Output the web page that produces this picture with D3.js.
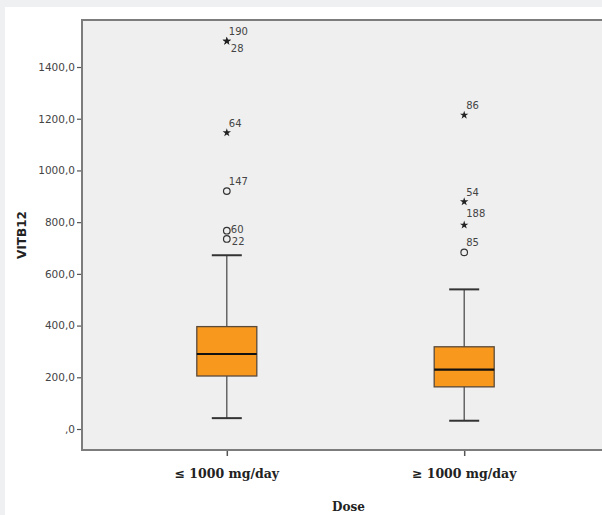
<!DOCTYPE html>
<html>
<head>
<meta charset="utf-8">
<script src="https://cdn.jsdelivr.net/npm/d3@7"></script>
<style>
  body { margin: 0; background: #eef0f2; }
  svg { display: block; }
</style>
</head>
<body>
<script>
/********************************************************/
// data
const groups = ["≤ 1000 mg/day", "≥ 1000 mg/day"];
const whiskerLow = [42, 32];
const q1 = [205, 163];
const median = [290, 230];
const q3 = [396, 318];
const whiskerHigh = [672, 540];

// outliers: group index, value, case number, kind
const outlierGroup = [0, 0, 0, 0, 0, 0, 1, 1, 1, 1];
const outlierValue = [1500, 1500, 1146, 920, 767, 735, 1214, 879, 789, 683];
const outlierCase = ["190", "28", "64", "147", "60", "22", "86", "54", "188", "85"];
const outlierKind = ["star", "star", "star", "circle", "circle", "circle", "star", "star", "star", "circle"];

const yTicks = [0, 200, 400, 600, 800, 1000, 1200, 1400];

/********************************************************/
const svgWidth = 602;
const svgHeight = 515;

const plot = { left: 82, top: 20, right: 609, bottom: 450 };

const svg = d3.select("body")
  .append("svg")
  .attr("width", svgWidth)
  .attr("height", svgHeight);

// white panel over the grey page
svg.append("rect")
  .attr("x", 5).attr("y", 7)
  .attr("width", svgWidth - 5).attr("height", svgHeight - 7)
  .attr("fill", "#ffffff");

// plot background
svg.append("rect")
  .attr("x", plot.left).attr("y", plot.top)
  .attr("width", plot.right - plot.left).attr("height", plot.bottom - plot.top)
  .attr("fill", "#efefef");

/************** scales ************/
const yScale = d3.scaleLinear()
  .domain([-81.2, 1581.8])
  .range([plot.bottom, plot.top]);

const xScale = d3.scalePoint()
  .domain(groups)
  .range([plot.left, plot.right])
  .padding(0.61);

/************** axes ************/
const leftAxis = d3.axisLeft(yScale)
  .tickValues(yTicks)
  .tickSize(5)
  .tickPadding(2)
  .tickFormat(d => d === 0 ? ",0" : d.toFixed(1).replace(".", ","));

const yAxisG = svg.append("g")
  .attr("transform", `translate(${plot.left},0)`)
  .call(leftAxis);
yAxisG.select(".domain").remove();
yAxisG.selectAll("line").attr("stroke", "#555").attr("stroke-width", 1.2);
yAxisG.selectAll("text")
  .attr("font-family", "DejaVu Sans, sans-serif")
  .attr("font-size", "10.5px")
  .attr("fill", "#444");

const bottomAxis = d3.axisBottom(xScale).tickSize(6).tickFormat("");
const xAxisG = svg.append("g")
  .attr("transform", `translate(0,${plot.bottom})`)
  .call(bottomAxis);
xAxisG.select(".domain").remove();
xAxisG.selectAll("line").attr("stroke", "#555").attr("stroke-width", 1.5);

// category labels
svg.selectAll(".catLabel")
  .data(groups)
  .enter()
  .append("text")
  .attr("class", "catLabel")
  .attr("x", d => xScale(d))
  .attr("y", 478)
  .attr("text-anchor", "middle")
  .attr("font-family", "DejaVu Serif, serif")
  .attr("font-weight", "bold")
  .attr("font-size", "12.5px")
  .attr("fill", "#222")
  .text(d => d);

// frame (left, top, bottom)
svg.append("path")
  .attr("d", `M${plot.right},${plot.top}H${plot.left}V${plot.bottom}H${plot.right}`)
  .attr("fill", "none")
  .attr("stroke", "#7c7c7c")
  .attr("stroke-width", 2);

/************** boxes ************/
const boxWidth = 60;
const capWidth = 30;
const idx = d3.range(groups.length);

const boxG = svg.append("g");

// whisker stems
boxG.selectAll(".stem")
  .data(idx)
  .enter()
  .append("line")
  .attr("x1", i => xScale(groups[i]))
  .attr("x2", i => xScale(groups[i]))
  .attr("y1", i => yScale(whiskerLow[i]))
  .attr("y2", i => yScale(whiskerHigh[i]))
  .attr("stroke", "#444")
  .attr("stroke-width", 1.2);

// caps
[whiskerLow, whiskerHigh].forEach(arr => {
  boxG.selectAll(null)
    .data(idx)
    .enter()
    .append("line")
    .attr("x1", i => xScale(groups[i]) - capWidth / 2)
    .attr("x2", i => xScale(groups[i]) + capWidth / 2)
    .attr("y1", i => yScale(arr[i]))
    .attr("y2", i => yScale(arr[i]))
    .attr("stroke", "#333")
    .attr("stroke-width", 2);
});

// boxes
boxG.selectAll(".box")
  .data(idx)
  .enter()
  .append("rect")
  .attr("x", i => xScale(groups[i]) - boxWidth / 2)
  .attr("y", i => yScale(q3[i]))
  .attr("width", boxWidth)
  .attr("height", i => yScale(q1[i]) - yScale(q3[i]))
  .attr("fill", "#f8991e")
  .attr("stroke", "#5a4a3a")
  .attr("stroke-width", 1.3);

// medians
boxG.selectAll(".median")
  .data(idx)
  .enter()
  .append("line")
  .attr("x1", i => xScale(groups[i]) - boxWidth / 2)
  .attr("x2", i => xScale(groups[i]) + boxWidth / 2)
  .attr("y1", i => yScale(median[i]))
  .attr("y2", i => yScale(median[i]))
  .attr("stroke", "#111")
  .attr("stroke-width", 2.2);

/************** outliers ************/
const outliers = outlierValue.map((v, i) => ({
  x: xScale(groups[outlierGroup[i]]),
  y: yScale(v),
  label: outlierCase[i],
  kind: outlierKind[i]
}));

const star = d3.symbol().type(d3.symbolStar).size(22);

svg.selectAll(".outStar")
  .data(outliers.filter(d => d.kind === "star"))
  .enter()
  .append("path")
  .attr("d", star)
  .attr("transform", d => `translate(${d.x},${d.y})`)
  .attr("fill", "#222");

svg.selectAll(".outCircle")
  .data(outliers.filter(d => d.kind === "circle"))
  .enter()
  .append("circle")
  .attr("cx", d => d.x)
  .attr("cy", d => d.y)
  .attr("r", 3.3)
  .attr("fill", "none")
  .attr("stroke", "#333")
  .attr("stroke-width", 1.2);

// label placement of overlapping case numbers
const labelShift = {
  "28": [4, 11],
  "60": [4, 2.5],
  "22": [5, 6],
  "188": [2, -8]
};

svg.selectAll(".outLabel")
  .data(outliers)
  .enter()
  .append("text")
  .attr("x", d => d.x + (labelShift[d.label] ? labelShift[d.label][0] : 2))
  .attr("y", d => d.y + (labelShift[d.label] ? labelShift[d.label][1] : -6))
  .attr("font-family", "DejaVu Sans, sans-serif")
  .attr("font-size", "10px")
  .attr("fill", "#444")
  .text(d => d.label);

/************** axis titles ************/
svg.append("text")
  .attr("transform", "translate(26,235) rotate(-90)")
  .attr("text-anchor", "middle")
  .attr("font-family", "DejaVu Sans, sans-serif")
  .attr("font-weight", "bold")
  .attr("font-size", "12px")
  .attr("fill", "#222")
  .text("VITB12");

svg.append("text")
  .attr("x", (xScale(groups[0]) + xScale(groups[1])) / 2 + 3)
  .attr("y", 511)
  .attr("text-anchor", "middle")
  .attr("font-family", "DejaVu Serif, serif")
  .attr("font-weight", "bold")
  .attr("font-size", "12px")
  .attr("fill", "#222")
  .text("Dose");
</script>
</body>
</html>
